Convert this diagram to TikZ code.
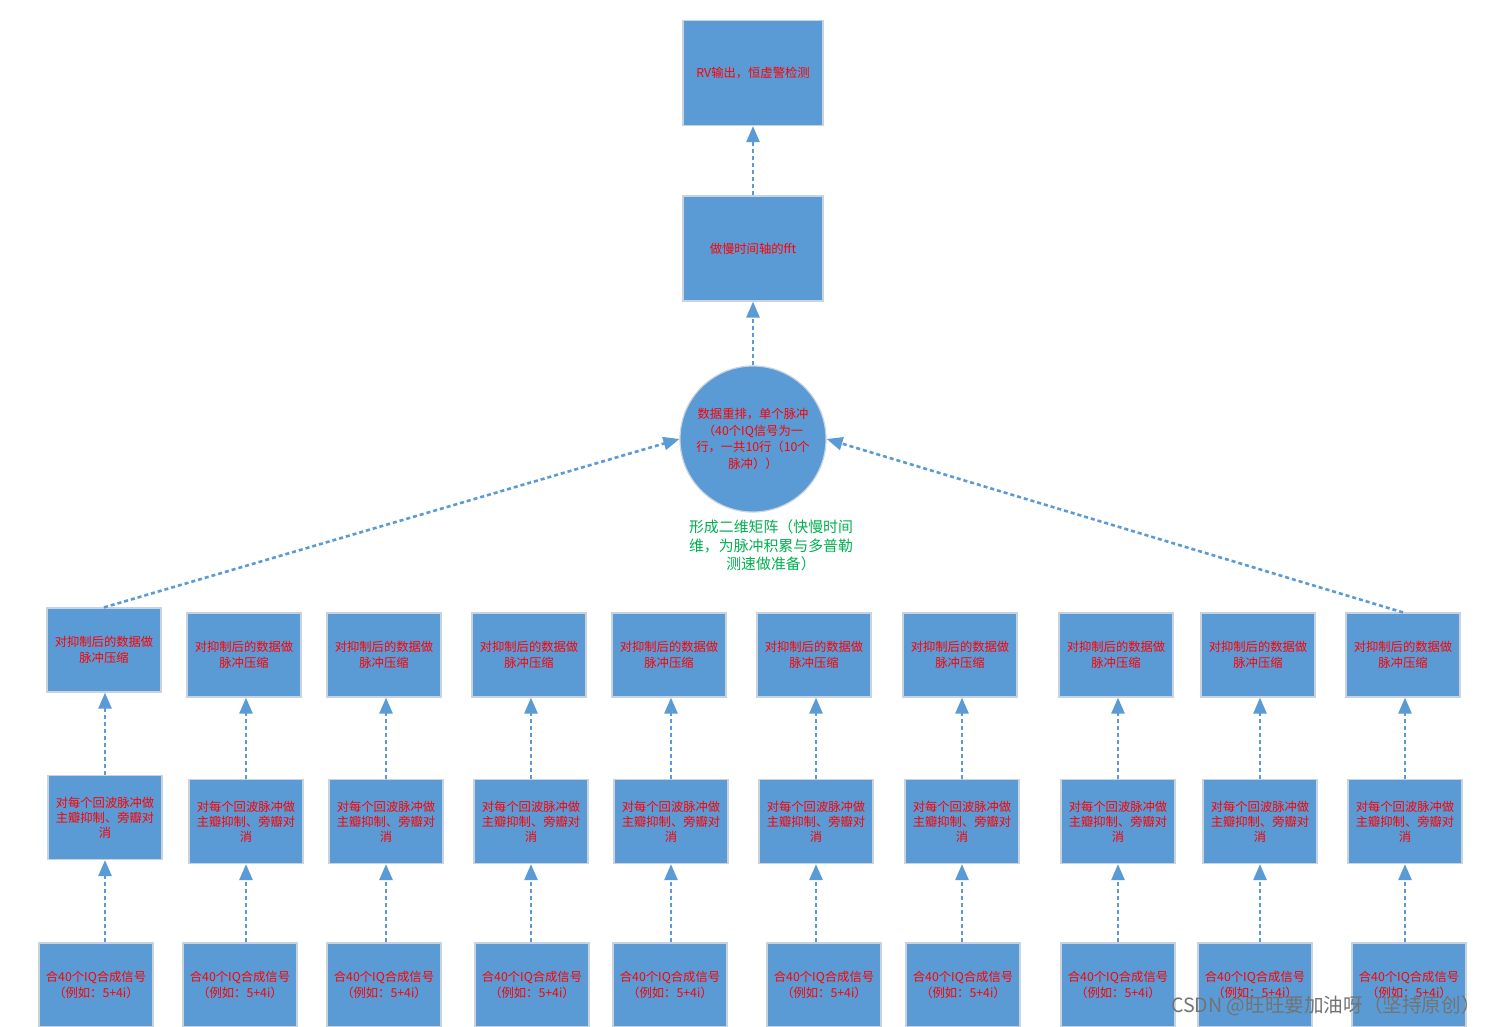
\documentclass[tikz,border=0pt]{standalone}
\usepackage{fontspec}
\setmainfont{Noto Sans CJK SC}
\usetikzlibrary{arrows.meta}
\definecolor{boxblue}{HTML}{5B9BD5}
\definecolor{txtred}{HTML}{FF0000}
\definecolor{txtgreen}{HTML}{00B050}
\definecolor{edgegray}{HTML}{C9D3DD}
\begin{document}
\begin{tikzpicture}[x=1pt,y=-1pt,
  box/.style={rectangle, fill=boxblue, draw=edgegray, line width=1.2pt,
    minimum width=114pt, minimum height=84pt, inner sep=0pt, align=center,
    text=txtred, font=\fontsize{12.3}{16}\selectfont},
  tightbox/.style={box, font=\fontsize{12.3}{14.8}\selectfont},
  bigbox/.style={box, minimum width=140pt, minimum height=105pt},
  roundbox/.style={circle, fill=boxblue, draw=edgegray, line width=1.2pt,
    minimum size=146pt, inner sep=0pt, align=center, text=txtred,
    font=\fontsize{12.3}{16.4}\selectfont},
  note/.style={align=center, text=txtgreen, font=\fontsize{14.9}{18.5}\selectfont},
  wmark/.style={text=black!55, font=\fontsize{19.6}{21}\selectfont},
  flow/.style={draw=boxblue, line width=2.6pt, dash pattern=on 4pt off 3pt,
    -{Triangle[length=16pt,width=13pt]}},
]
\useasboundingbox (0,0) rectangle (1490,1027);
\clip (0,0) rectangle (1490,1027);
\fill[white] (0,0) rectangle (1490,1027);

% top part
\node[bigbox] (rv) at (753,73) {RV输出，恒虚警检测};
\node[bigbox] (fft) at (753,248.5) {做慢时间轴的fft};
\node[roundbox] (circ) at (753,439) {数据重排，单个脉冲\\（40个IQ信号为一\\行，一共10行（10个\\脉冲））};
\node[note] (note) at (771,545.5) {形成二维矩阵（快慢时间\\维，为脉冲积累与多普勒\\测速做准备）};

% rows
\foreach \i/\xa/\xb/\xc in {1/104/105/96, 2/244/246/240, 3/384/386/384, 4/529/531/532,
    5/669/671/670, 6/814/816/824, 7/960/962/963, 8/1116/1118/1118,
    9/1258/1260/1255, 10/1403/1405/1409}{
  \ifnum\i=1
    \node[box] (a\i) at (\xa,650) {对抑制后的数据做\\脉冲压缩};
    \node[tightbox] (b\i) at (\xb,817.5) {对每个回波脉冲做\\主瓣抑制、旁瓣对\\消};
  \else
    \node[box] (a\i) at (\xa,655) {对抑制后的数据做\\脉冲压缩};
    \node[tightbox] (b\i) at (\xb,821.5) {对每个回波脉冲做\\主瓣抑制、旁瓣对\\消};
  \fi
  \node[box] (c\i) at (\xc,985) {合40个IQ合成信号\\（例如：5+4i）};
  \draw[flow] (c\i.north -| b\i) -- (b\i.south);
  \draw[flow] (b\i.north) -- (a\i.south -| b\i);
}

% connectors to top
\draw[flow] (a1.north) -- (circ.west);
\draw[flow] (a10.north) -- (circ.east);
\draw[flow] (circ.north) -- (fft.south);
\draw[flow] (fft.north) -- (rv.south);

% watermark
\node[wmark] (wm) at (1326,1006) {CSDN @旺旺要加油呀（坚持原创）};
\end{tikzpicture}
\end{document}
